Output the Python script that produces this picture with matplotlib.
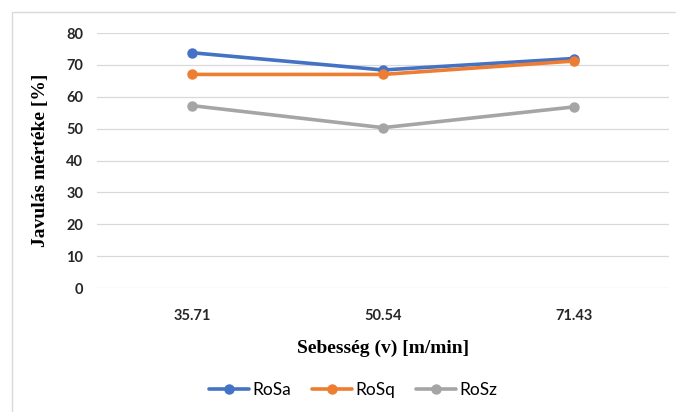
import matplotlib.pyplot as plt
from matplotlib.patches import Rectangle

# data
speeds = ["35.71", "50.54", "71.43"]
rosa = [73.8, 68.4, 72.0]
rosq = [67.0, 67.0, 71.2]
rosz = [57.2, 50.3, 56.8]
series_names = ["RoSa", "RoSq", "RoSz"]
yticks = [0, 10, 20, 30, 40, 50, 60, 70, 80]

COLORS = ["#4472C4", "#ED7D31", "#A5A5A5"]
SANS = ["Lato", "DejaVu Sans"]
SERIF = ["Liberation Serif", "DejaVu Serif"]


def main():
    fig = plt.figure(figsize=(6.76, 4.12), dpi=100)
    ax = fig.add_axes([97 / 676, 1 - 288 / 412, 572 / 676, 255 / 412])

    # outer chart frame (runs off the right and bottom edge in the reference)
    fig.patches.append(Rectangle((12 / 676, -0.2), 1.2, 1.2 - 12 / 412,
                                 transform=fig.transFigure, fill=False,
                                 edgecolor="#D9D9D9", linewidth=1.0))

    x = range(len(speeds))
    for vals, name, col in zip([rosa, rosq, rosz], series_names, COLORS):
        ax.plot(x, vals, color=col, linewidth=2.6, marker="o", markersize=6.5,
                label=name, solid_capstyle="round", zorder=3)

    ax.set_xlim(-0.5, len(speeds) - 0.5)
    ax.set_ylim(0, 80)
    ax.set_yticks(yticks)
    ax.set_xticks(list(x))
    ax.set_xticklabels(speeds)
    ax.grid(axis="y", color="#D9D9D9", linewidth=0.9)
    ax.set_axisbelow(True)
    for s in ax.spines.values():
        s.set_visible(False)
    ax.tick_params(axis="both", length=0, labelsize=10.5, colors="#262626")
    ax.tick_params(axis="y", pad=10)
    ax.tick_params(axis="x", pad=15)
    for lab in ax.get_xticklabels() + ax.get_yticklabels():
        lab.set_fontfamily(SANS)
        lab.set_fontweight("bold")

    ax.set_ylabel("Javulás mértéke [%]", fontfamily=SERIF, fontweight="bold",
                  fontsize=14, labelpad=12)
    ax.set_xlabel("Sebesség (v) [m/min]", fontfamily=SERIF, fontweight="bold",
                  fontsize=14, labelpad=12)

    fig.legend(loc="center", bbox_to_anchor=(353 / 676, 1 - 390 / 412), ncol=3,
               frameon=False, prop={"family": SANS, "size": 12.5},
               handlelength=2.3, columnspacing=1.2, handletextpad=0.2)

    fig.savefig("out.png", dpi=100)
    plt.close(fig)


if __name__ == "__main__":
    main()
